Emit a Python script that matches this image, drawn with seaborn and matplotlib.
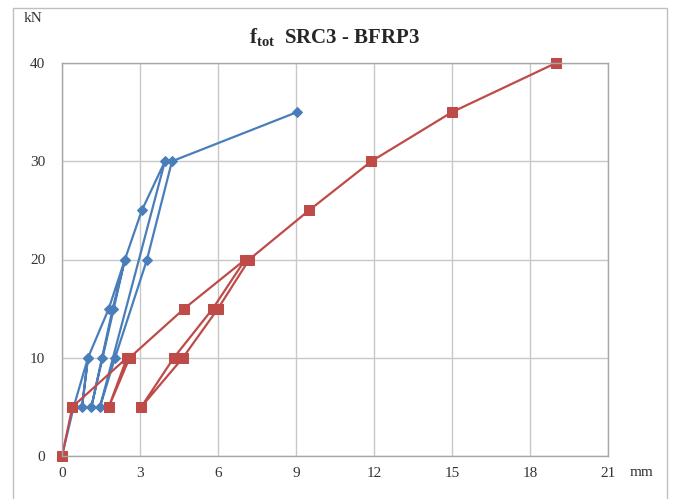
#!/usr/bin/env python3
"""
Load-deflection curve f_tot, SRC3 vs BFRP3
"""

import pandas as pd
import matplotlib
matplotlib.use("Agg")
import matplotlib.pyplot as plt
import seaborn as sns

# ------------------------------------------------------------
# Data
# ------------------------------------------------------------
src3_mm = [0, 0.45, 1.0, 0.77, 1.0, 1.8, 2.42, 1.13, 1.54, 1.95, 2.42,
           3.07, 3.96, 1.46, 2.04, 3.27, 4.23, 9.04]
src3_kn = [0, 5, 10, 5, 10, 15, 20, 5, 10, 15, 20,
           25, 30, 5, 10, 20, 30, 35]

bfrp3_mm = [0, 0.4, 2.5, 1.8, 2.6, 4.7, 7.05, 5.8, 4.3, 3.05, 4.65,
            6.0, 7.2, 9.5, 11.9, 15.0, 19.0]
bfrp3_kn = [0, 5, 10, 5, 10, 15, 20, 15, 10, 5, 10,
            15, 20, 25, 30, 35, 40]

x_ticks = [0, 3, 6, 9, 12, 15, 18, 21]
y_ticks = [0, 10, 20, 30, 40]

blue = "#4a7ebb"
red = "#be4b48"

df_src = pd.DataFrame({"mm": src3_mm, "kN": src3_kn})
df_bfrp = pd.DataFrame({"mm": bfrp3_mm, "kN": bfrp3_kn})

# ------------------------------------------------------------
# Style
# ------------------------------------------------------------
sns.set_style("white")
plt.rcParams["font.family"] = ["Liberation Serif", "DejaVu Serif"]
plt.rcParams["mathtext.fontset"] = "custom"
plt.rcParams["mathtext.rm"] = "Liberation Serif"
plt.rcParams["mathtext.bf"] = "Liberation Serif:bold"

fig = plt.figure(figsize=(6.77, 4.99), dpi=100)
ax = fig.add_axes([62 / 677, 43 / 499, 546 / 677, 393 / 499])

sns.lineplot(data=df_src, x="mm", y="kN", sort=False, estimator=None,
             color=blue, marker="D", markersize=5, markeredgecolor=blue,
             linewidth=1.6, ax=ax)
sns.lineplot(data=df_bfrp, x="mm", y="kN", sort=False, estimator=None,
             color=red, marker="s", markersize=6.5, markeredgecolor=red,
             linewidth=1.6, ax=ax)
for ln in ax.lines:
    ln.set_clip_on(False)

ax.set_xlim(0, 21)
ax.set_ylim(0, 40)
ax.set_xticks(x_ticks)
ax.set_yticks(y_ticks)
ax.set_xlabel("")
ax.set_ylabel("")
ax.grid(True, color="#c8c8c8", linewidth=1)
ax.set_axisbelow(True)
for sp in ax.spines.values():
    sp.set_color("#a6a6a6")
    sp.set_linewidth(1)
ax.tick_params(length=0, labelsize=11, colors="#333333")
ax.tick_params(axis="x", pad=8)
ax.tick_params(axis="y", pad=12)

ax.set_title(r"$\mathbf{f}_{\mathbf{tot}}$  SRC3 - BFRP3",
             fontsize=15, fontweight="bold", pad=14)
fig.text(33 / 677, 1 - 18 / 499, "kN", fontsize=11, color="#333333",
         ha="center", va="center")
fig.text(642 / 677, 1 - 472 / 499, "mm", fontsize=11, color="#333333",
         ha="center", va="center")

# outer chart border
fig.patches.append(plt.Rectangle((13 / 677, -0.02), 654 / 677, 1 - 8 / 499 + 0.02,
                                 transform=fig.transFigure, fill=False,
                                 edgecolor="#bfbfbf", linewidth=1))

fig.savefig("out.png", dpi=100)
